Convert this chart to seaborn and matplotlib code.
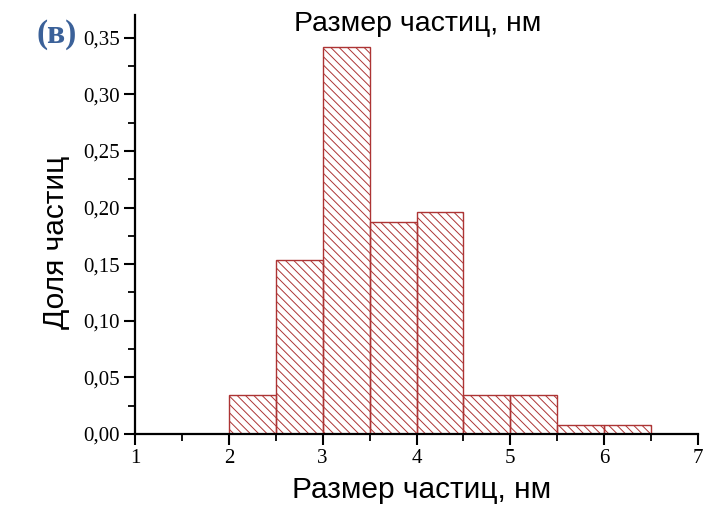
import numpy as np
import pandas as pd
import seaborn as sns
import matplotlib
matplotlib.use("Agg")
import matplotlib.pyplot as plt
from matplotlib.ticker import MultipleLocator, FuncFormatter

# Data
bin_edges = [2.0, 2.5, 3.0, 3.5, 4.0, 4.5, 5.0, 5.5, 6.0, 6.5]
fractions = [0.034, 0.154, 0.342, 0.187, 0.196, 0.034, 0.034, 0.008, 0.008]
x_ticks = [1, 2, 3, 4, 5, 6, 7]
y_ticks = [0.00, 0.05, 0.10, 0.15, 0.20, 0.25, 0.30, 0.35]
title_text = "Размер частиц, нм"
xlabel_text = "Размер частиц, нм"
ylabel_text = "Доля частиц"
panel_label = "(в)"

centers = [(a + b) / 2 for a, b in zip(bin_edges[:-1], bin_edges[1:])]
df = pd.DataFrame({"size": centers, "frac": fractions})

sns.set_style("ticks")
plt.rcParams["font.family"] = ["Liberation Serif", "DejaVu Serif"]
plt.rcParams["text.color"] = "black"
plt.rcParams["hatch.linewidth"] = 0.7
plt.rcParams["hatch.color"] = "#b23a3a"

fig = plt.figure(figsize=(7.06, 5.14), dpi=100)
ax = fig.add_axes([135 / 706, 1 - 434 / 514, (698 - 135) / 706, (434 - 15) / 514])

sns.histplot(data=df, x="size", weights="frac", bins=bin_edges, ax=ax,
             stat="count", fill=False, element="bars", legend=False)
for p in ax.patches:
    p.set_hatch("\\\\\\\\")
    p.set_edgecolor("#ad3434")
    p.set_facecolor("none")
    p.set_linewidth(1.0)

ax.set_xlim(1, 7)
ax.set_ylim(0, 0.370)
ax.set_xticks(x_ticks)
ax.set_yticks(y_ticks)
ax.xaxis.set_minor_locator(MultipleLocator(0.5))
ax.yaxis.set_minor_locator(MultipleLocator(0.025))
ax.yaxis.set_major_formatter(FuncFormatter(lambda v, _: f"{v:.2f}".replace(".", ",")))
ax.set_xticklabels([str(t) for t in x_ticks])

for s in ["top", "right"]:
    ax.spines[s].set_visible(False)
for s in ["left", "bottom"]:
    ax.spines[s].set_linewidth(1.6)
    ax.spines[s].set_color("black")

ax.tick_params(axis="both", which="major", direction="out", length=8, width=1.5,
               labelsize=15, colors="black", labelcolor="black", pad=3)
ax.tick_params(axis="both", which="minor", direction="out", length=5, width=1.3,
               colors="black")
ax.set_xlabel("")
ax.set_ylabel("")

sans = ["Liberation Sans", "DejaVu Sans"]
fig.text(418 / 706, 1 - 24 / 514, title_text, ha="center", va="center",
         fontsize=20.5, family=sans, color="black")
fig.text(422 / 706, 1 - 490 / 514, xlabel_text, ha="center", va="center",
         fontsize=21.5, family=sans, color="black")
fig.text(56 / 706, 1 - 242 / 514, ylabel_text, ha="center", va="center",
         rotation=90, fontsize=21.5, family=sans, color="black")
fig.text(57 / 706, 1 - 35 / 514, panel_label, ha="center", va="center",
         fontsize=24, fontweight="bold", color="#3b6199",
         family=["Liberation Serif", "DejaVu Serif"])

fig.savefig("out.png", dpi=100)
